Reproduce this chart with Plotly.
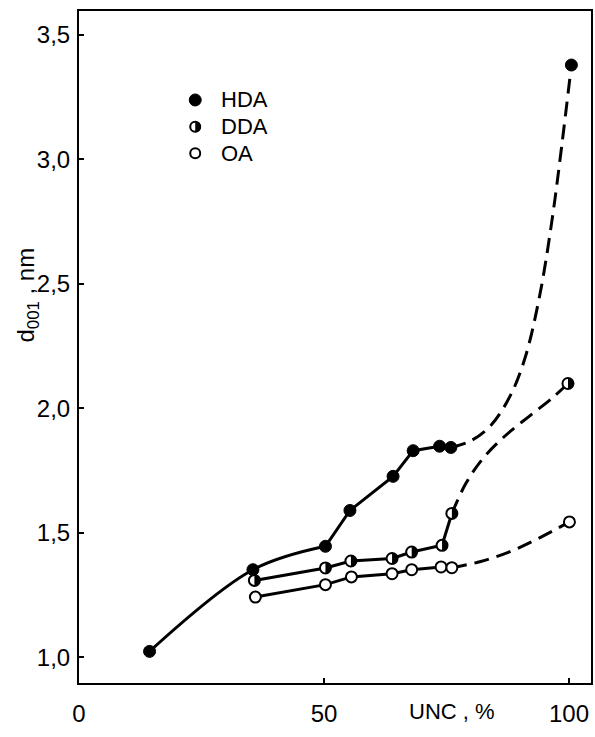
import plotly.graph_objects as go

# ---- data ----
hda_x = [14.4, 35.5, 50.3, 55.3, 64.1, 68.2, 73.6, 75.9, 100.5]
hda_y = [1.024, 1.352, 1.446, 1.590, 1.727, 1.830, 1.848, 1.843, 3.379]

dda_x = [35.8, 50.3, 55.5, 63.9, 67.9, 74.1, 76.1, 99.8]
dda_y = [1.309, 1.359, 1.387, 1.397, 1.423, 1.450, 1.578, 2.100]

oa_x = [36.0, 50.3, 55.6, 63.9, 67.9, 73.9, 76.1, 100.1]
oa_y = [1.242, 1.292, 1.323, 1.336, 1.352, 1.363, 1.360, 1.544]

# dashed guide curves (hand-drawn in the original)
hda_guide_x = [75.9, 80.0, 84.0, 88.0, 91.0, 94.0, 96.5, 98.5, 100.5]
hda_guide_y = [1.843, 1.870, 1.930, 2.050, 2.200, 2.450, 2.750, 3.050, 3.379]
dda_guide_x = [76.1, 79.0, 82.5, 87.0, 92.0, 96.5, 99.8]
dda_guide_y = [1.578, 1.700, 1.800, 1.890, 1.970, 2.040, 2.100]
oa_guide_x = [76.1, 82.0, 88.0, 94.0, 100.1]
oa_guide_y = [1.360, 1.385, 1.425, 1.480, 1.544]

x_tickvals = [0, 50, 100]
x_ticktext = ["0", "50", "100"]
y_tickvals = [1.0, 1.5, 2.0, 2.5, 3.0, 3.5]
y_ticktext = ["1,0", "1,5", "2,0", "2,5", "3,0", "3,5"]

series_names = ["HDA", "DDA", "OA"]

FONT = "Liberation Sans, Arial, sans-serif"
LW = 3
DASH = "15px,8px"

fig = go.Figure()

# dashed guides
for gx, gy in [(hda_guide_x, hda_guide_y), (dda_guide_x, dda_guide_y), (oa_guide_x, oa_guide_y)]:
    fig.add_trace(go.Scatter(x=gx, y=gy, mode="lines",
                             line=dict(color="black", width=LW, dash=DASH, shape="spline", smoothing=1.0),
                             hoverinfo="skip", showlegend=False))

# solid HDA: curved first part, then polyline
fig.add_trace(go.Scatter(x=hda_x[0:3], y=hda_y[0:3], mode="lines",
                         line=dict(color="black", width=LW, shape="spline", smoothing=1.0),
                         showlegend=False))
fig.add_trace(go.Scatter(x=hda_x[2:8], y=hda_y[2:8], mode="lines",
                         line=dict(color="black", width=LW), showlegend=False))
# solid DDA and OA
fig.add_trace(go.Scatter(x=dda_x[:7], y=dda_y[:7], mode="lines",
                         line=dict(color="black", width=LW), showlegend=False))
fig.add_trace(go.Scatter(x=oa_x[:7], y=oa_y[:7], mode="lines",
                         line=dict(color="black", width=LW), showlegend=False))

# markers
fig.add_trace(go.Scatter(x=oa_x, y=oa_y, mode="markers", name="OA",
                         marker=dict(size=11, color="white", line=dict(color="black", width=2)),
                         showlegend=False))
fig.add_trace(go.Scatter(x=dda_x, y=dda_y, mode="markers", name="DDA",
                         marker=dict(size=11, color="white", line=dict(color="black", width=2)),
                         showlegend=False))
fig.add_trace(go.Scatter(x=hda_x, y=hda_y, mode="markers", name="HDA",
                         marker=dict(size=12, color="black", line=dict(color="black", width=1)),
                         showlegend=False))


def half_disc(r):
    k = 0.5523 * r
    return (f"M0,{r} C{k},{r} {r},{k} {r},0 C{r},{-k} {k},{-r} 0,{-r} Z")


shapes = []
for x, y in zip(dda_x, dda_y):
    shapes.append(dict(type="path", xref="x", yref="y", xsizemode="pixel", ysizemode="pixel",
                       xanchor=x, yanchor=y, path=half_disc(5.5),
                       fillcolor="black", line=dict(width=0)))

# manual legend
leg_x = 0.227
leg_ys = [0.8676, 0.8278, 0.7882]
annotations = []
for i, name in enumerate(series_names):
    ly = leg_ys[i]
    if name == "HDA":
        shapes.append(dict(type="circle", xref="paper", yref="paper", xsizemode="pixel", ysizemode="pixel",
                           xanchor=leg_x, yanchor=ly, x0=-6, x1=6, y0=-6, y1=6,
                           fillcolor="black", line=dict(color="black", width=1)))
    else:
        shapes.append(dict(type="circle", xref="paper", yref="paper", xsizemode="pixel", ysizemode="pixel",
                           xanchor=leg_x, yanchor=ly, x0=-5, x1=5, y0=-5, y1=5,
                           fillcolor="white", line=dict(color="black", width=2)))
        if name == "DDA":
            shapes.append(dict(type="path", xref="paper", yref="paper", xsizemode="pixel", ysizemode="pixel",
                               xanchor=leg_x, yanchor=ly, path=half_disc(5.5),
                               fillcolor="black", line=dict(width=0)))
    annotations.append(dict(x=leg_x + 0.047, y=ly, xref="paper", yref="paper", text=name,
                            showarrow=False, xanchor="left", yanchor="middle",
                            font=dict(family=FONT, size=22, color="black")))

annotations.append(dict(x=0.728, y=-0.043, xref="paper", yref="paper", text="UNC , %",
                        showarrow=False, xanchor="center", yanchor="middle",
                        font=dict(family=FONT, size=22, color="black")))
annotations.append(dict(x=-0.101, y=0.577, xref="paper", yref="paper",
                        text="d<sub>001</sub> , nm", textangle=-90,
                        showarrow=False, xanchor="center", yanchor="middle",
                        font=dict(family=FONT, size=24, color="black")))

fig.update_layout(
    width=595, height=737,
    margin=dict(l=79, r=2, t=11, b=54),
    paper_bgcolor="white", plot_bgcolor="white",
    showlegend=False,
    shapes=shapes, annotations=annotations,
    font=dict(family=FONT, size=24, color="black"),
)
fig.update_xaxes(range=[0, 104.5], tickvals=x_tickvals, ticktext=x_ticktext,
                 showgrid=False, zeroline=False, showline=True, linecolor="black", linewidth=2,
                 mirror=True, ticks="inside", ticklen=5, tickwidth=2, tickcolor="black",
                 tickfont=dict(family=FONT, size=24, color="black"), ticklabelstandoff=8)
fig.update_yaxes(range=[0.897, 3.596], tickvals=y_tickvals, ticktext=y_ticktext,
                 showgrid=False, zeroline=False, showline=True, linecolor="black", linewidth=2,
                 mirror=True, ticks="inside", ticklen=5, tickwidth=2, tickcolor="black",
                 tickfont=dict(family=FONT, size=24, color="black"), ticklabelstandoff=2)

fig.write_html("out.html", config={"displayModeBar": False},
               post_script="document.body.style.margin='0px';document.body.style.overflow='hidden';")
